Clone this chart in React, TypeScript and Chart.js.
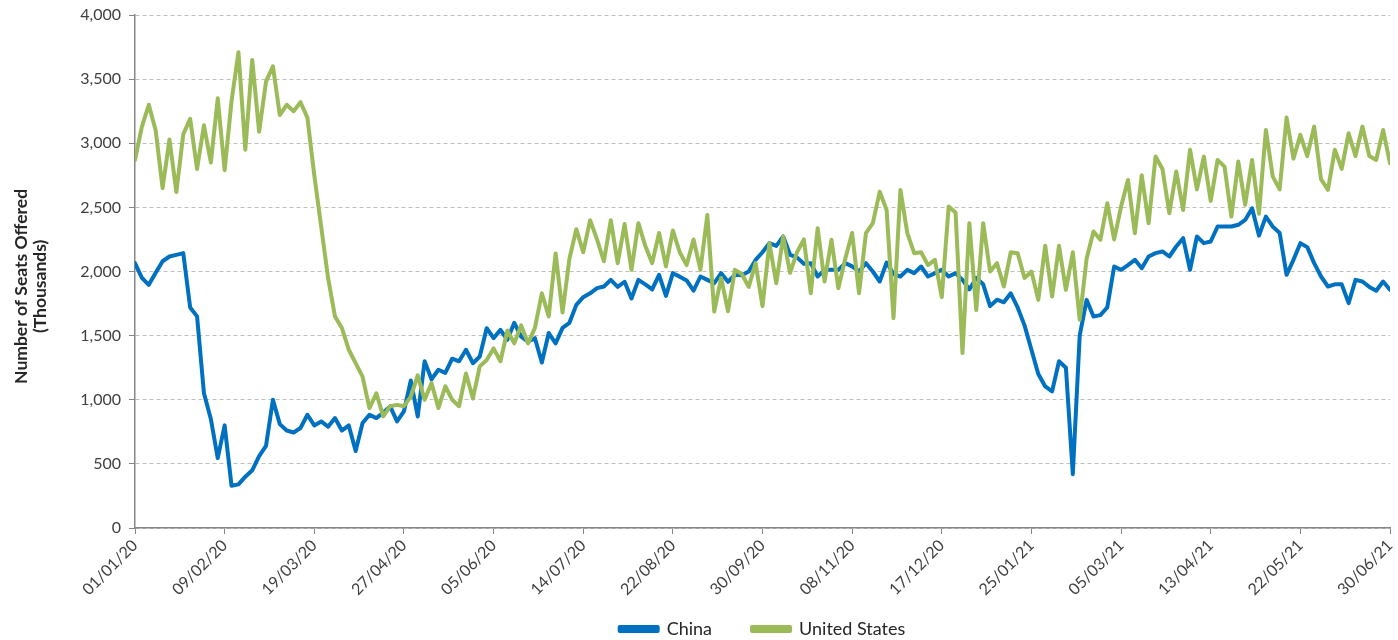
import { useEffect, useRef } from 'react';
import { Chart, registerables } from 'chart.js';

Chart.register(...registerables);

// Daily series sampled every 3 days, starting 01/01/2020 (thousands of seats)
const START_DATE_UTC = Date.UTC(2020, 0, 1);
const STEP_DAYS = 3;
const TICK_STEP_DAYS = 39;
const LAST_DAY = 546;
const Y_MAX = 4000;
const Y_STEP = 500;
const SERIES_NAMES = ['China', 'United States'];
const Y_TITLE = ['Number of Seats Offered', '(Thousands)'];

const chinaSeats = [
  2065, 1950, 1896, 1990, 2080, 2117, 2130, 2143, 1720, 1650,
  1050, 850, 545, 800, 330, 340, 400, 450, 560, 640,
  1000, 810, 760, 745, 780, 883, 800, 831, 790, 857,
  760, 800, 600, 818, 883, 857, 900, 948, 831, 910,
  1150, 870, 1300, 1160, 1234, 1210, 1320, 1300, 1390, 1285,
  1337, 1558, 1480, 1545, 1467, 1600, 1493, 1454, 1480, 1290,
  1520, 1440, 1560, 1600, 1740, 1800, 1830, 1870, 1883, 1935,
  1880, 1920, 1790, 1935, 1900, 1860, 1974, 1810, 1987, 1960,
  1930, 1850, 1961, 1935, 1909, 1987, 1920, 1974, 1970, 2000,
  2090, 2150, 2221, 2200, 2273, 2130, 2110, 2060, 2065, 1961,
  2013, 2013, 2013, 2065, 2040, 2000, 2065, 2000, 1922, 2070,
  1980, 1961, 2013, 1987, 2039, 1961, 1987, 2013, 1961, 1987,
  1935, 1860, 1950, 1900, 1730, 1780, 1760, 1830, 1720, 1580,
  1390, 1200, 1104, 1065, 1300, 1250, 420, 1500, 1779, 1649,
  1660, 1720, 2039, 2013, 2050, 2091, 2026, 2117, 2143, 2156,
  2117, 2195, 2260, 2013, 2273, 2221, 2234, 2351, 2351, 2351,
  2364, 2402, 2493, 2280, 2428, 2350, 2300, 1974, 2091, 2221,
  2190, 2065, 1961, 1883, 1900, 1900, 1753, 1935, 1922, 1880,
  1850, 1922, 1857,
];

const usSeats = [
  2870, 3130, 3300, 3100, 2650, 3030, 2620, 3070, 3190, 2800,
  3140, 2850, 3350, 2790, 3330, 3710, 2950, 3650, 3090, 3480,
  3600, 3220, 3300, 3250, 3320, 3200, 2750, 2350, 1950, 1650,
  1560, 1390, 1285, 1180, 935, 1050, 870, 950, 960, 950,
  1025, 1190, 1000, 1130, 935, 1105, 1000, 950, 1205, 1010,
  1260, 1310, 1400, 1300, 1540, 1440, 1580, 1440, 1560, 1830,
  1650, 2140, 1680, 2100, 2330, 2150, 2400, 2250, 2080, 2400,
  2065, 2370, 2013, 2377, 2200, 2065, 2300, 2040, 2320, 2150,
  2050, 2250, 2013, 2440, 1688, 1950, 1690, 2013, 1980, 1880,
  2065, 1730, 2221, 1909, 2273, 1990, 2150, 2250, 1831, 2338,
  1922, 2247, 1870, 2100, 2300, 1831, 2299, 2377, 2623, 2480,
  1636, 2636, 2300, 2143, 2150, 2050, 2091, 1800, 2506, 2460,
  1364, 2377, 1700, 2377, 2000, 2065, 1883, 2150, 2143, 1950,
  2000, 1779, 2200, 1805, 2200, 1857, 2150, 1623, 2100, 2312,
  2247, 2532, 2250, 2506, 2714, 2299, 2750, 2377, 2896, 2800,
  2454, 2780, 2480, 2950, 2640, 2896, 2550, 2870, 2818, 2428,
  2857, 2520, 2870, 2450, 3104, 2740, 2640, 3200, 2880, 3065,
  2900, 3130, 2720, 2636, 2950, 2800, 3078, 2900, 3130, 2900,
  2870, 3104, 2844,
];

const COLORS = ['#0070C0', '#9BBB59'];
const FONT = 'Lato, "Open Sans", sans-serif';

function dayLabel(day: number): string {
  const d = new Date(START_DATE_UTC + day * 86400000);
  const dd = String(d.getUTCDate()).padStart(2, '0');
  const mm = String(d.getUTCMonth() + 1).padStart(2, '0');
  const yy = String(d.getUTCFullYear() % 100).padStart(2, '0');
  return `${dd}/${mm}/${yy}`;
}

const toPoints = (vals: number[]) => vals.map((v, i) => ({ x: i * STEP_DAYS, y: v }));

export default function App() {
  const ref = useRef<HTMLCanvasElement | null>(null);

  useEffect(() => {
    if (!ref.current) return;
    const lineStyle = { borderWidth: 4, pointRadius: 0, tension: 0, borderJoinStyle: 'round', borderCapStyle: 'round' };
    const chart = new Chart(ref.current, {
      type: 'line',
      data: {
        datasets: [
          {
            label: SERIES_NAMES[1],
            data: toPoints(usSeats),
            borderColor: COLORS[1],
            backgroundColor: COLORS[1],
            ...lineStyle,
          },
          {
            label: SERIES_NAMES[0],
            data: toPoints(chinaSeats),
            borderColor: COLORS[0],
            backgroundColor: COLORS[0],
            ...lineStyle,
          },
        ],
      },
      options: {
        animation: false,
        responsive: false,
        layout: { padding: { left: 0, right: 8, top: 15, bottom: -8 } },
        plugins: {
          tooltip: { enabled: false },
          legend: {
            position: 'bottom',
            fullSize: false,
            reverse: true,
            labels: {
              boxWidth: 38,
              boxHeight: 4,
              padding: 40,
              color: '#262626',
              font: { family: FONT, size: 18 },
            },
          },
        },
        scales: {
          x: {
            type: 'linear',
            min: 0,
            max: LAST_DAY,
            afterFit: (s: any) => {
              s.height = 52;
              s.paddingLeft = 0;
              s.paddingRight = 0;
              s._computeLabelArea = () => undefined;
            },
            afterBuildTicks: (s: any) => {
              const t = [];
              for (let d = 0; d <= LAST_DAY; d += TICK_STEP_DAYS) t.push({ value: d });
              s.ticks = t;
            },
            ticks: {
              autoSkip: false,
              maxRotation: 45,
              minRotation: 45,
              color: '#404040',
              font: { family: FONT, size: 16 },
              padding: 2,
              callback: (v: any) => dayLabel(Number(v)),
            },
            grid: {
              drawOnChartArea: false,
              drawTicks: true,
              tickLength: 6,
              tickColor: '#868686',
            },
            border: { display: true, color: '#868686', width: 1.5 },
          },
          y: {
            min: 0,
            max: Y_MAX,
            afterFit: (s: any) => {
              s.width = 135;
              s.paddingTop = 0;
              s.paddingBottom = 0;
            },
            ticks: {
              stepSize: Y_STEP,
              color: '#404040',
              font: { family: FONT, size: 16 },
              padding: 8,
              callback: (v: any) => Number(v).toLocaleString('en-US'),
            },
            grid: {
              color: '#BFBFBF',
              lineWidth: 1,
              tickLength: 6,
              tickColor: '#868686',
              tickBorderDash: [],
            },
            border: { display: true, color: '#868686', width: 1.5, dash: [4, 3] },
            title: {
              display: true,
              // trailing spaces nudge the centred title slightly downward, as in the original
              text: Y_TITLE.map((t) => t + '       '),
              color: '#262626',
              font: { family: FONT, size: 17.5, weight: 'bold', lineHeight: 1.05 },
              padding: { top: 12.5, bottom: 0 },
            },
          },
        },
      } as any,
    });
    return () => chart.destroy();
  }, []);

  return (
    <div style={{ position: 'absolute', left: 0, top: 0, width: 1398, height: 640, background: '#fff' }}>
      <canvas ref={ref} width={1398} height={640} style={{ display: 'block' }} />
    </div>
  );
}
